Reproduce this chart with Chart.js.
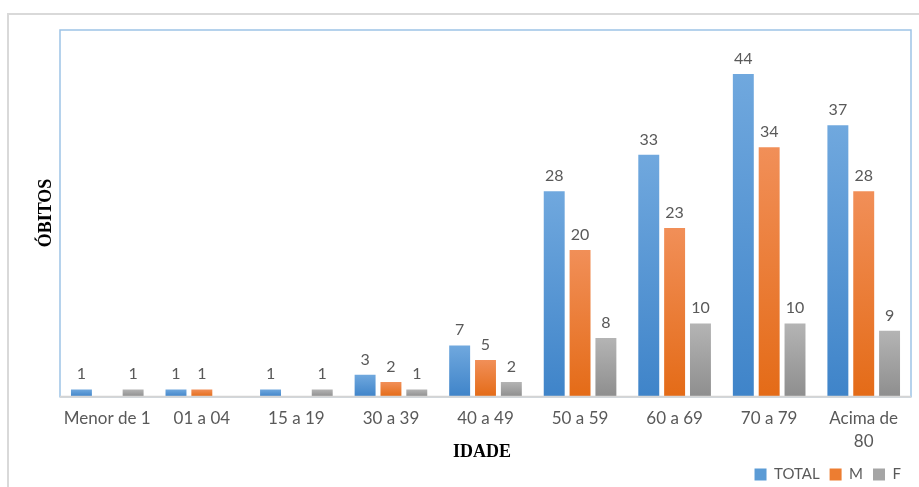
<!DOCTYPE html>
<html lang="pt">
<head>
<meta charset="utf-8">
<title>Óbitos por idade</title>
<script src="https://cdn.jsdelivr.net/npm/chart.js@4/dist/chart.umd.min.js"></script>
<style>
  html, body { margin: 0; padding: 0; background: #fff; }
  #wrap { width: 919px; height: 487px; }
</style>
</head>
<body>
<div id="wrap"><canvas id="obitosChart" width="919" height="487"></canvas></div>
<script>
// Faixas etárias
const faixas = ['Menor de 1', '01 a 04', '15 a 19', '30 a 39', '40 a 49', '50 a 59', '60 a 69', '70 a 79', ['Acima de', '80']];

// Óbitos por série (null = sem barra)
const total = [1, 1, 1, 3, 7, 28, 33, 44, 37];
const masc = [null, 1, null, 2, 5, 20, 23, 34, 28];
const fem = [1, null, 1, 1, 2, 8, 10, 10, 9];

// Cores: topo claro, base escura
const cores = {
  TOTAL: ['#5b9bd5', '#70a8de', '#3f84c9'],
  M: ['#ed7d31', '#f18f58', '#e46b17'],
  F: ['#a5a5a5', '#b4b4b4', '#8e8e8e']
};

const textoCinza = '#595959';

// Gradiente vertical por barra
function gradiente(nome) {
  return (c) => {
    const chart = c.chart;
    const y = chart.scales && chart.scales.y;
    const v = c.raw;
    if (!chart.chartArea || !y || v == null) return cores[nome][0];
    const topo = y.getPixelForValue(v);
    const base = y.getPixelForValue(0);
    const g = chart.ctx.createLinearGradient(0, topo, 0, base);
    g.addColorStop(0, cores[nome][1]);
    g.addColorStop(1, cores[nome][2]);
    return g;
  };
}

// Moldura, títulos dos eixos e rótulos de valor
const extras = {
  id: 'extras',
  beforeDraw(chart) {
    const ctx = chart.ctx;
    const a = chart.chartArea;
    ctx.save();
    // moldura externa
    ctx.strokeStyle = '#d9d9d9';
    ctx.lineWidth = 2;
    ctx.beginPath();
    ctx.moveTo(8, chart.height);
    ctx.lineTo(8, 14);
    ctx.lineTo(chart.width, 14);
    ctx.stroke();
    // borda da área do gráfico
    ctx.strokeStyle = '#9dc3e6';
    ctx.lineWidth = 1.5;
    ctx.strokeRect(a.left, a.top, a.right - a.left, a.bottom - a.top);
    ctx.restore();
  },
  afterDatasetsDraw(chart) {
    const ctx = chart.ctx;
    const a = chart.chartArea;
    ctx.save();
    // linha do eixo x
    ctx.strokeStyle = '#d4d4d4';
    ctx.lineWidth = 2;
    ctx.beginPath();
    ctx.moveTo(a.left, a.bottom);
    ctx.lineTo(a.right, a.bottom);
    ctx.stroke();
    // valores sobre as barras
    ctx.fillStyle = textoCinza;
    ctx.font = '16px Lato';
    ctx.textAlign = 'center';
    ctx.textBaseline = 'alphabetic';
    chart.data.datasets.forEach((ds, i) => {
      chart.getDatasetMeta(i).data.forEach((bar, j) => {
        const v = ds.data[j];
        if (v == null) return;
        ctx.fillText(String(v), bar.x, bar.y - 10);
      });
    });
    // títulos dos eixos
    ctx.fillStyle = '#000';
    ctx.font = 'bold 18px "Liberation Serif"';
    ctx.textBaseline = 'middle';
    ctx.fillText('IDADE', 482, 452);
    ctx.translate(46, 213);
    ctx.rotate(-Math.PI / 2);
    ctx.fillText('ÓBITOS', 0, 0);
    ctx.restore();
  }
};

const ctx = document.getElementById('obitosChart').getContext('2d');

const obitosChart = new Chart(ctx, {
  type: 'bar',
  data: {
    labels: faixas,
    datasets: [
      { label: 'TOTAL', data: total, backgroundColor: gradiente('TOTAL') },
      { label: 'M', data: masc, backgroundColor: gradiente('M') },
      { label: 'F', data: fem, backgroundColor: gradiente('F') }
    ]
  },
  options: {
    responsive: false,
    animation: false,
    layout: { padding: { left: 60, top: 30, right: 8, bottom: -5 } },
    datasets: {
      bar: { categoryPercentage: 0.82, barPercentage: 0.81, skipNull: false }
    },
    scales: {
      x: {
        grid: { display: false, drawTicks: false },
        border: { display: false },
        ticks: {
          color: textoCinza,
          font: { family: 'Lato', size: 17, lineHeight: 1.36 },
          padding: 10,
          maxRotation: 0,
          autoSkip: false
        },
        afterFit: (s) => { s.height -= 6; }
      },
      y: {
        display: false,
        min: 0,
        max: 50
      }
    },
    plugins: {
      legend: {
        position: 'bottom',
        align: 'end',
        labels: {
          color: textoCinza,
          font: { family: 'Lato', size: 15 },
          boxWidth: 12,
          boxHeight: 12,
          padding: 10,
          generateLabels: (chart) => chart.data.datasets.map((ds, i) => ({
            text: ds.label,
            fillStyle: cores[ds.label][0],
            strokeStyle: cores[ds.label][0],
            lineWidth: 0,
            fontColor: textoCinza,
            datasetIndex: i
          }))
        }
      },
      tooltip: { enabled: false }
    }
  },
  plugins: [extras]
});
</script>
</body>
</html>
